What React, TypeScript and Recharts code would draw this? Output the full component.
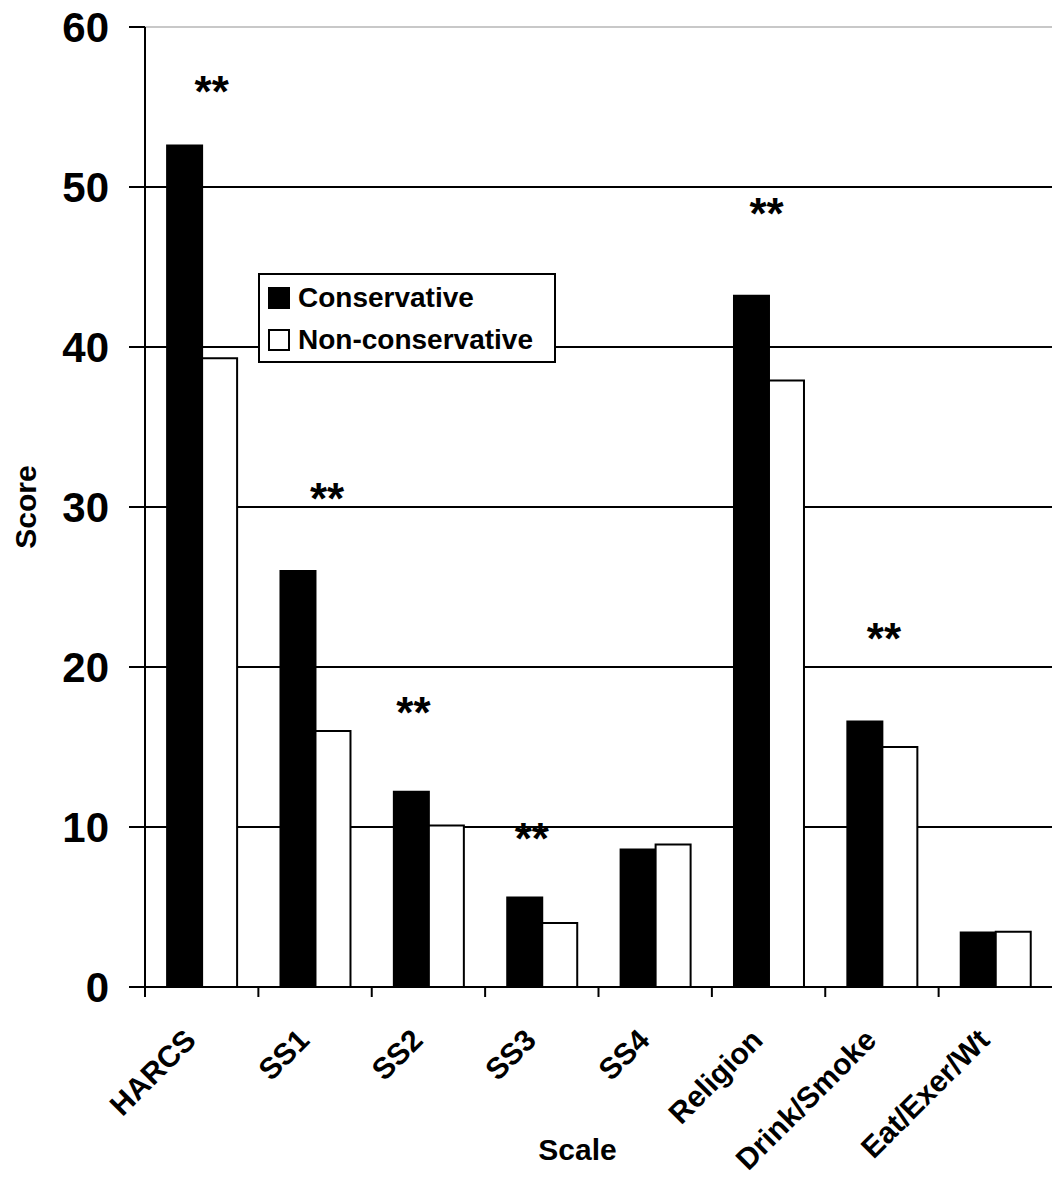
import React from 'react';
import { BarChart, Bar, XAxis, YAxis, CartesianGrid, ReferenceLine, ReferenceDot, Legend, Label } from 'recharts';

const scales = ['HARCS', 'SS1', 'SS2', 'SS3', 'SS4', 'Religion', 'Drink/Smoke', 'Eat/Exer/Wt'];
const conservative = [52.6, 26.0, 12.2, 5.6, 8.6, 43.2, 16.6, 3.4];
const nonConservative = [39.3, 16.0, 10.1, 4.0, 8.9, 37.9, 15.0, 3.45];
const yTicks = [0, 10, 20, 30, 40, 50, 60];

// significance markers: which scale, and the score height where the "**" sits
const starScales = ['HARCS', 'SS1', 'SS2', 'SS3', 'Religion', 'Drink/Smoke'];
const starHeights = [56.3, 30.9, 17.5, 9.6, 48.7, 22.1];

const W = 1052;
const H = 1190;
const LEFT = 145;
const BAND = (W - LEFT) / scales.length;
const FONT = 'Arial, "Liberation Sans", Helvetica, sans-serif';
// small horizontal nudges so the stars sit where they were placed by hand
const starNudge = [10, 12, -15, -10, -2, 2];

const data = scales.map((s, i) => ({
  scale: s,
  conservative: conservative[i],
  nonConservative: nonConservative[i],
}));

const ScaleTick = (props: any) => {
  const { x, y, payload } = props;
  const edge = x - BAND / 2;
  const tx = x - 4;
  const ty = y + 55;
  return (
    <g>
      <line x1={edge} y1={y} x2={edge} y2={y + 10} stroke="#000" strokeWidth={2} />
      <text
        x={tx}
        y={ty}
        textAnchor="end"
        transform={`rotate(-45, ${tx}, ${ty})`}
        fontFamily={FONT}
        fontWeight="bold"
        fontSize={30}
        fill="#000"
      >
        {payload.value}
      </text>
    </g>
  );
};

const LegendBox = () => (
  <div
    style={{
      background: '#fff',
      border: '2px solid #000',
      width: 286,
      height: 84,
      boxSizing: 'content-box',
      fontFamily: FONT,
      fontWeight: 'bold',
      fontSize: 28,
      paddingLeft: 8,
      paddingTop: 2,
    }}
  >
    {[
      { name: 'Conservative', fill: '#000' },
      { name: 'Non-conservative', fill: '#fff' },
    ].map((item) => (
      <div key={item.name} style={{ display: 'flex', alignItems: 'center', height: 42 }}>
        <span
          style={{
            display: 'inline-block',
            width: 18,
            height: 18,
            background: item.fill,
            border: '2px solid #000',
            marginRight: 8,
          }}
        />
        {item.name}
      </div>
    ))}
  </div>
);

export default function App() {
  return (
    <div style={{ width: W, height: H, background: '#fff' }}>
      <style>{'body{margin:0}'}</style>
      <BarChart
        width={W}
        height={H}
        data={data}
        margin={{ top: 27, right: 0, left: 0, bottom: 0 }}
        barCategoryGap="19.5%"
        barGap={0}
      >
        <CartesianGrid horizontal vertical={false} horizontalValues={[10, 20, 30, 40, 50]} stroke="#000" strokeWidth={2} />
        <ReferenceLine y={60} stroke="#c8c8c8" strokeWidth={2} />
        <XAxis
          dataKey="scale"
          height={203}
          tickSize={0}
          tickMargin={0}
          interval={0}
          axisLine={{ stroke: '#000', strokeWidth: 2 }}
          tickLine={false}
          tick={<ScaleTick />}
        >
          <Label
            value="Scale"
            position="insideBottom"
            offset={30}
            dx={-21}
            style={{ fontFamily: FONT, fontWeight: 'bold', fontSize: 30, fill: '#000' }}
          />
        </XAxis>
        <YAxis
          width={LEFT}
          domain={[0, 60]}
          ticks={yTicks}
          tickSize={16}
          tickMargin={20}
          axisLine={{ stroke: '#000', strokeWidth: 2 }}
          tickLine={{ stroke: '#000', strokeWidth: 2 }}
          tick={{ fontFamily: FONT, fontWeight: 'bold', fontSize: 42, fill: '#000' }}
        >
          <Label
            value="Score"
            angle={-90}
            position="insideLeft"
            offset={25}
            style={{ fontFamily: FONT, fontWeight: 'bold', fontSize: 30, fill: '#000', textAnchor: 'middle' }}
          />
        </YAxis>
        <Legend
          layout="vertical"
          align="center"
          verticalAlign="middle"
          content={<LegendBox />}
          wrapperStyle={{ position: 'absolute', left: 258, top: 273, width: 'auto' }}
        />
        <Bar dataKey="conservative" name="Conservative" fill="#000" stroke="#000" strokeWidth={2} isAnimationActive={false} />
        <Bar dataKey="nonConservative" name="Non-conservative" fill="#fff" stroke="#000" strokeWidth={2} isAnimationActive={false} />
        {starScales.map((s, i) => (
          <ReferenceDot
            key={s}
            x={s}
            y={starHeights[i]}
            ifOverflow="visible"
            shape={(p: any) => (
              <text
                x={p.cx + starNudge[i]}
                y={p.cy + 21}
                textAnchor="middle"
                fontFamily={FONT}
                fontWeight="bold"
                fontSize={44}
                fill="#000"
              >
                **
              </text>
            )}
          />
        ))}
      </BarChart>
    </div>
  );
}
